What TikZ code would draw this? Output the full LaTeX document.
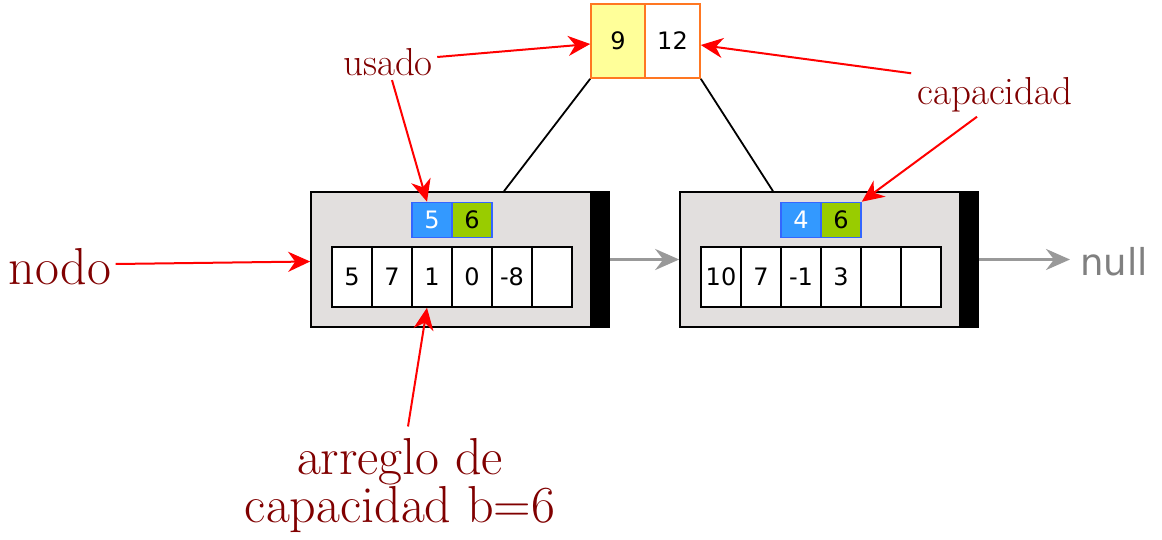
\documentclass[tikz,border=0pt]{standalone}
\usepackage{fontspec}
\newfontfamily\dvsans{DejaVu Sans}
\usetikzlibrary{arrows.meta}
\definecolor{lbl}{HTML}{800000}
\definecolor{nodefill}{HTML}{E2DFDE}
\definecolor{blu}{HTML}{3399FF}
\definecolor{bluborder}{HTML}{3366FF}
\definecolor{grn}{HTML}{99CC00}
\definecolor{yel}{HTML}{FFFF99}
\definecolor{org}{HTML}{FF7722}
\definecolor{gry}{HTML}{999999}
\tikzset{
  outerbox/.style={draw=black, line width=0.8pt, fill=nodefill, minimum width=140pt, minimum height=67.5pt, inner sep=0pt},
  barbox/.style={draw=black, line width=0.8pt, fill=black, minimum width=9pt, minimum height=67.5pt, inner sep=0pt},
  cell/.style={draw=black, line width=0.8pt, fill=white, minimum width=20pt, minimum height=30pt, inner sep=0pt, font=\dvsans\fontsize{12}{14}\selectfont},
  usedbox/.style={draw=bluborder, line width=0.8pt, fill=blu, text=white, minimum width=20pt, minimum height=17.5pt, inner sep=0pt, font=\dvsans\fontsize{12}{14}\selectfont},
  capbox/.style={draw=bluborder, line width=0.8pt, fill=grn, text=black, minimum width=20pt, minimum height=17.5pt, inner sep=0pt, font=\dvsans\fontsize{12}{14}\selectfont},
  topbox/.style={draw=org, line width=0.8pt, minimum height=37pt, inner sep=0pt, font=\dvsans\fontsize{12}{14}\selectfont},
  smalllbl/.style={text=lbl, font=\fontsize{19.5}{23}\selectfont, inner sep=2pt},
  biglbl/.style={text=lbl, font=\fontsize{26}{24}\selectfont, inner sep=2pt, align=center},
  redarrow/.style={draw=red, line width=1pt, -{Stealth[length=11pt,width=10pt,inset=3.5pt]}},
  grayarrow/.style={draw=gry, line width=1.5pt, -{Stealth[length=12pt,width=10.5pt,inset=4pt]}},
  tree/.style={draw=black, line width=0.9pt}
}
\begin{document}
\begin{tikzpicture}[x=0.5pt,y=-0.5pt]
\useasboundingbox (0,0) rectangle (1162,540);
% top box
\node[topbox, fill=yel, minimum width=27pt] (t9) at (618,41) {9};
\node[topbox, fill=white, minimum width=27.5pt] (t12) at (672.5,41) {12};
% node 1
\node[outerbox] (n1) at (451,259.5) {};
\node[barbox] (b1) at (600,259.5) {};
\node[usedbox] (u1) at (432,220) {5};
\node[capbox] (c1) at (472,220) {6};
\node[cell] (a11) at (352,277) {5};
\node[cell] (a12) at (392,277) {7};
\node[cell] (a13) at (432,277) {1};
\node[cell] (a14) at (472,277) {0};
\node[cell] (a15) at (512,277) {-8};
\node[cell] (a16) at (552,277) {};
% node 2
\node[outerbox] (n2) at (820,259.5) {};
\node[barbox] (b2) at (969,259.5) {};
\node[usedbox] (u2) at (801,220) {4};
\node[capbox] (c2) at (841,220) {6};
\node[cell] (a21) at (721,277) {10};
\node[cell] (a22) at (761,277) {7};
\node[cell] (a23) at (801,277) {-1};
\node[cell] (a24) at (841,277) {3};
\node[cell] (a25) at (881,277) {};
\node[cell] (a26) at (921,277) {};
% null
\node[text=gray, font=\dvsans\fontsize{18.5}{22}\selectfont, inner sep=0pt, anchor=west] (null) at (1080,262) {null};
% tree lines
\draw[tree] (t9.south west) -- ([xshift=26.5pt]n1.north);
\draw[tree] (t12.south east) -- ([xshift=-23.5pt]n2.north);
% gray arrows
\draw[grayarrow] (b1.east) -- (n2.west);
\draw[grayarrow] (b2.east) -- ([xshift=-5pt]b2.east -| null.west);
% labels
\node[smalllbl] (usado) at (388,62) {usado};
\node[smalllbl] (capacidad) at (995,95) {capacidad};
\node[biglbl] (nodo) at (60,267) {nodo};
\node[biglbl] (arreglo) at (400,486) {arreglo de\\capacidad b=6};
% red arrows
\draw[redarrow] ([yshift=2.5pt]usado.east) -- ([yshift=-1.5pt]t9.west);
\draw[redarrow] ([xshift=2pt]usado.south) -- ([xshift=-2.5pt]u1.north);
\draw[redarrow] ([xshift=-1pt]capacidad.north west) -- ([yshift=-2pt]t12.east);
\draw[redarrow] ([xshift=-9pt]capacidad.south) -- (c2.north east);
\draw[redarrow] ([yshift=1.5pt]nodo.east) -- ([yshift=-1pt]n1.west);
\draw[redarrow] ([xshift=4pt,yshift=4pt]arreglo.north) -- ([xshift=-2.5pt]a13.south);
\end{tikzpicture}
\end{document}
